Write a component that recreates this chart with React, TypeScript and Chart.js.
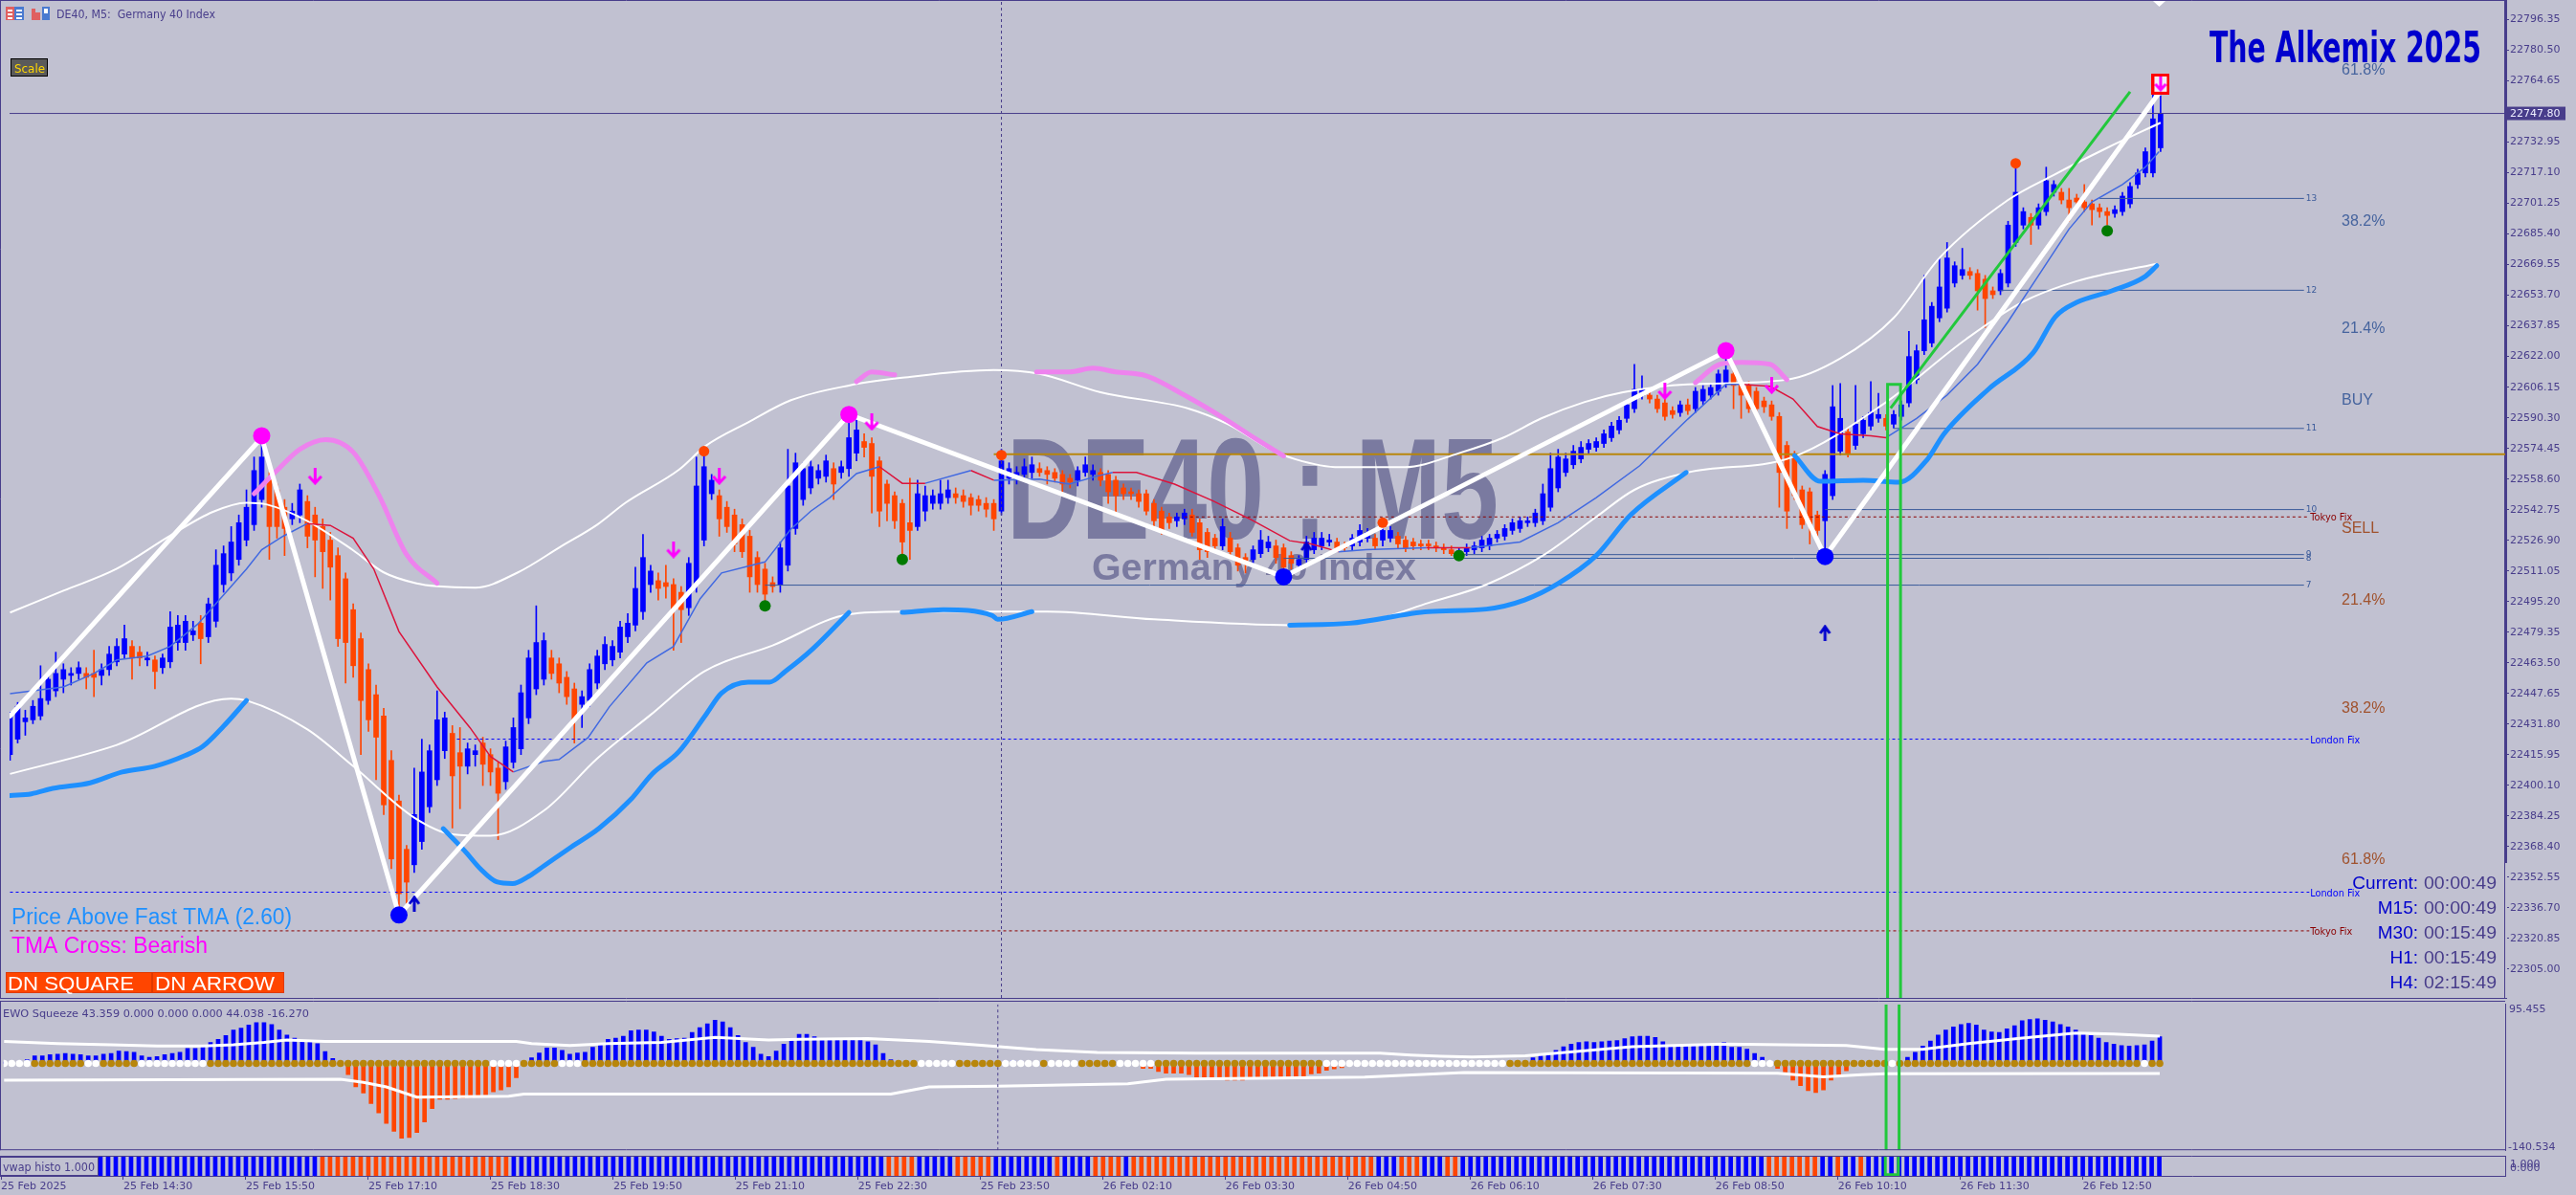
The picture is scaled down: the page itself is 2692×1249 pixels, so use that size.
import React, { useEffect, useRef } from "react";
import { Chart, registerables } from "chart.js";

Chart.register(...registerables);

// ---------------- colours / frame ----------------
const BG = "#c1c1d1";
const FRAME = "#483d8b";
const UP = "#0000ff";
const DOWN = "#ff4500";
const WM = "#7a7aa0";

// ---------------- candles: DE40 M5, bar 0 = 25 Feb 13:10, bar 282 = 26 Feb 13:40 ----------------
const opens = [
  22416,22424,22433,22434,22436,22444,22449,22455,22457,22458,
  22458,22458,22457,22460,22464,22468,22472,22469,22465,22465,
  22461,22464,22474,22474,22478,22484,22477,22485,22504,22510,
  22517,22527,22535,22548,22559,22553,22544,22538,22540,22547,
  22540,22534,22527,22519,22507,22491,22476,22460,22447,22436,
  22413,22392,22367,22359,22371,22389,22403,22418,22427,22417,
  22410,22416,22422,22416,22409,22402,22412,22419,22435,22450,
  22455,22466,22463,22456,22450,22442,22444,22453,22463,22465,
  22469,22477,22483,22490,22504,22506,22505,22504,22500,22492,
  22504,22527,22551,22550,22544,22540,22535,22529,22518,22512,
  22505,22504,22514,22533,22548,22554,22559,22560,22564,22562,
  22564,22572,22578,22577,22568,22556,22550,22546,22536,22534,
  22542,22546,22546,22549,22551,22550,22549,22548,22546,22546,
  22542,22559,22559,22561,22562,22564,22563,22562,22561,22559,
  22558,22562,22561,22562,22561,22558,22554,22552,22551,22551,
  22546,22542,22539,22537,22538,22540,22536,22531,22528,22524,
  22528,22523,22518,22517,22520,22523,22524,22523,22519,22514,
  22517,22522,22524,22526,22526,22524,22524,22526,22528,22528,
  22527,22528,22529,22527,22526,22525,22525,22524,22523,22522,
  22521,22521,22522,22523,22524,22528,22529,22532,22533,22536,
  22536,22537,22544,22554,22562,22566,22569,22574,22575,22577,
  22580,22584,22590,22595,22602,22602,22600,22598,22594,22593,
  22597,22595,22599,22602,22604,22608,22613,22608,22607,22604,
  22599,22597,22591,22576,22571,22553,22552,22540,22537,22550,
  22573,22583,22576,22582,22586,22590,22590,22587,22591,22598,
  22610,22625,22629,22642,22647,22660,22664,22666,22665,22662,
  22656,22656,22660,22681,22690,22694,22690,22697,22707,22707,
  22703,22704,22702,22701,22699,22697,22696,22697,22701,22711,
  22717,22717,22730
];
const highs = [
  22438,22443,22439,22444,22462,22458,22469,22463,22461,22464,
  22461,22470,22463,22472,22476,22483,22475,22472,22469,22467,
  22468,22490,22488,22488,22485,22488,22497,22522,22524,22534,
  22540,22553,22570,22578,22562,22556,22548,22546,22556,22550,
  22544,22538,22531,22523,22510,22494,22479,22463,22452,22440,
  22418,22395,22369,22409,22424,22421,22449,22438,22431,22430,
  22422,22421,22425,22419,22412,22423,22435,22452,22470,22493,
  22479,22470,22466,22459,22453,22449,22463,22470,22477,22475,
  22485,22489,22513,22530,22514,22510,22514,22507,22503,22518,
  22570,22572,22561,22553,22547,22543,22538,22532,22521,22515,
  22508,22526,22574,22572,22567,22568,22566,22571,22567,22568,
  22588,22590,22582,22580,22570,22558,22552,22548,22559,22558,
  22555,22553,22558,22558,22554,22553,22551,22550,22549,22548,
  22574,22567,22565,22569,22570,22567,22565,22564,22563,22561,
  22565,22570,22566,22564,22563,22560,22556,22554,22553,22553,
  22548,22544,22541,22541,22543,22543,22538,22533,22530,22538,
  22531,22525,22520,22524,22532,22529,22527,22525,22521,22519,
  22529,22531,22531,22530,22528,22526,22530,22535,22533,22530,
  22536,22534,22531,22529,22528,22527,22527,22526,22525,22524,
  22523,22525,22526,22529,22530,22532,22535,22538,22539,22539,
  22543,22556,22572,22574,22572,22576,22578,22579,22580,22584,
  22588,22591,22599,22618,22612,22605,22602,22600,22596,22599,
  22600,22606,22607,22608,22615,22621,22615,22610,22609,22606,
  22601,22599,22593,22578,22573,22555,22554,22542,22563,22607,
  22608,22585,22607,22591,22609,22603,22592,22594,22599,22635,
  22628,22664,22650,22673,22681,22671,22678,22668,22667,22664,
  22658,22667,22692,22721,22699,22696,22701,22720,22713,22709,
  22709,22706,22711,22703,22701,22699,22700,22707,22712,22719,
  22730,22758,22757
];
const lows = [
  22413,22422,22426,22432,22434,22442,22446,22448,22452,22455,
  22450,22446,22452,22457,22462,22466,22455,22462,22462,22450,
  22458,22461,22470,22470,22475,22463,22474,22482,22500,22506,
  22514,22524,22532,22544,22517,22528,22519,22535,22536,22523,
  22508,22502,22496,22472,22453,22456,22416,22428,22403,22385,
  22357,22335,22339,22355,22367,22386,22400,22414,22378,22388,
  22406,22410,22400,22400,22372,22398,22409,22416,22432,22447,
  22452,22455,22448,22442,22422,22430,22441,22450,22460,22462,
  22466,22474,22480,22486,22500,22496,22497,22470,22474,22488,
  22500,22524,22548,22529,22531,22521,22518,22500,22500,22494,
  22500,22500,22511,22530,22545,22551,22556,22557,22548,22559,
  22560,22568,22570,22541,22534,22537,22533,22517,22517,22532,
  22537,22543,22543,22546,22546,22544,22540,22542,22539,22532,
  22540,22556,22556,22558,22559,22560,22556,22557,22552,22554,
  22555,22560,22558,22555,22546,22541,22548,22548,22544,22540,
  22534,22530,22533,22534,22535,22529,22517,22518,22521,22522,
  22518,22511,22510,22514,22518,22521,22515,22511,22512,22512,
  22515,22520,22522,22524,22521,22521,22522,22524,22526,22522,
  22524,22526,22523,22521,22522,22522,22522,22521,22520,22519,
  22519,22519,22520,22521,22522,22526,22527,22530,22531,22534,
  22534,22535,22542,22552,22560,22564,22567,22572,22573,22575,
  22578,22582,22588,22593,22600,22598,22593,22589,22590,22591,
  22592,22593,22597,22600,22602,22606,22595,22590,22593,22592,
  22593,22589,22544,22533,22548,22533,22525,22525,22522,22548,
  22571,22570,22574,22580,22584,22588,22584,22585,22589,22596,
  22608,22623,22627,22640,22645,22658,22662,22662,22646,22637,
  22652,22654,22658,22679,22688,22680,22688,22695,22705,22701,
  22692,22700,22697,22690,22694,22690,22694,22695,22699,22709,
  22715,22715,22728
];
const closes = [
  22436,22441,22435,22441,22445,22455,22458,22460,22458,22461,
  22456,22456,22460,22468,22472,22476,22466,22466,22466,22459,
  22466,22482,22483,22485,22480,22476,22494,22514,22520,22526,
  22536,22544,22563,22570,22534,22534,22533,22542,22553,22529,
  22527,22521,22513,22476,22474,22462,22444,22434,22425,22390,
  22362,22344,22350,22385,22407,22418,22434,22435,22405,22410,
  22419,22418,22411,22407,22396,22420,22430,22448,22466,22474,
  22475,22458,22453,22446,22434,22446,22460,22467,22473,22472,
  22482,22484,22502,22518,22511,22502,22503,22491,22491,22515,
  22555,22565,22558,22538,22534,22525,22521,22508,22504,22499,
  22503,22523,22555,22567,22564,22565,22563,22568,22556,22565,
  22580,22584,22575,22560,22542,22546,22537,22526,22532,22551,
  22550,22550,22551,22553,22549,22547,22545,22545,22543,22538,
  22568,22564,22562,22565,22566,22562,22561,22559,22556,22557,
  22563,22566,22563,22558,22552,22550,22551,22551,22547,22542,
  22537,22532,22536,22539,22541,22531,22522,22521,22524,22534,
  22521,22514,22515,22522,22527,22526,22518,22513,22515,22517,
  22526,22528,22528,22527,22523,22523,22528,22532,22531,22524,
  22532,22532,22525,22523,22524,22524,22524,22523,22522,22520,
  22521,22523,22524,22527,22528,22530,22533,22536,22537,22537,
  22541,22551,22564,22570,22569,22573,22575,22577,22578,22582,
  22586,22589,22597,22605,22605,22600,22595,22591,22592,22597,
  22594,22604,22605,22606,22613,22615,22607,22602,22595,22595,
  22596,22591,22562,22542,22550,22535,22535,22532,22561,22596,
  22590,22572,22587,22589,22593,22592,22586,22592,22597,22622,
  22625,22641,22648,22658,22673,22669,22667,22664,22656,22652,
  22654,22665,22690,22707,22697,22690,22699,22713,22711,22703,
  22699,22702,22699,22698,22697,22695,22698,22705,22710,22717,
  22728,22745,22747.8
];

// ---------------- price-panel indicator lines (bar index, price) ----------------
const upperBand = [[0,22489.5],[7,22500.8],[14,22512.2],[21,22529.3],[26.6,22541.6],[31,22546.3],[33.7,22545.4],[39,22536.9],[45,22521.7],[49,22510.3],[53.3,22504.6],[56,22503.1],[61,22502.4],[66.6,22510.3],[72.2,22523.6],[77,22535],[80.7,22546.3],[87.7,22563.4],[91.2,22575.7],[96.8,22588],[102.4,22599.4],[110,22607],[117,22611],[129,22615],[135,22613],[143,22603.5],[154.6,22595],[159.7,22587],[165.4,22573.8],[168.6,22568.8],[174.3,22564.7],[182.9,22564.7],[190,22572],[195.8,22580],[200.8,22590],[206.5,22598.5],[211.5,22603.5],[220,22607.6],[233,22610],[240,22621],[247,22642],[253,22673],[262,22703],[268,22716],[275,22730],[282,22743]];
const lowerBand = [[0,22406],[14,22421],[29,22445],[31,22444],[39,22429],[45,22410],[53,22383.4],[58,22374.8],[63,22374],[70,22387],[77,22414],[84,22436.6],[91,22459],[100,22472.5],[110,22488.6],[117,22490],[136,22490],[150,22486],[168,22483],[179,22486],[186,22494.5],[193.6,22504],[201,22519],[208,22539],[213,22553],[220,22562],[233.8,22570],[245.5,22597],[256.5,22631],[263.8,22650],[271,22661],[281.5,22670]];
const thickBlueSegments = [
  [[0,22394.8],[2.8,22395.7],[5.6,22398.5],[10.5,22401.4],[14.7,22407],[19,22410],[23,22415.6],[25.3,22420.3],[28,22430.7],[31,22444]],
  [[56.8,22377.7],[59.6,22366.3],[61.7,22356.8],[63.8,22350.2],[65.9,22349.3],[68,22353],[70.1,22358.7],[73.6,22368.2],[77.2,22377.7],[81.4,22392.8],[84.2,22406],[87.7,22417.5],[91.2,22436.4],[93.3,22447.8],[96.8,22453.5],[99.6,22453.5],[101.7,22459.2],[105.2,22470.5],[110,22489.5]],
  [[117,22489.6],[122.4,22491],[128.8,22488],[129.5,22486],[134,22490]],
  [[167.8,22483],[175.7,22484],[186,22490],[193.6,22491.3],[198.6,22496],[203,22504.5],[208,22519],[212.5,22540],[219.8,22562]],
  [[234,22570.7],[237.4,22557.4],[243,22558],[247.7,22557],[251.4,22568.7],[253.6,22582],[259.4,22605],[265.3,22624],[268.2,22642.6],[271,22650],[275.6,22656],[280,22663.5],[281.5,22669]]
];
const violetSegments = [
  [[32,22551],[35,22563],[38,22574],[41.4,22579],[45,22572.5],[48.4,22550],[52,22519.5],[56,22504.7]],
  [[111,22609],[113,22614],[116,22612.5]],
  [[134.6,22614],[138.9,22614],[142,22616],[145,22614],[149,22612],[154,22602],[159.2,22590],[163.5,22579],[167,22570.5]],
  [[221,22608.5],[224.2,22618],[227,22619],[230.8,22618],[233,22610]]
];
const redMaSegments = [
  [[39,22535.6],[42,22534.6],[45,22528],[47.7,22512],[51,22479.7],[56,22451],[60.3,22430],[63,22415],[66,22407]],
  [[114,22565],[117,22556.4],[120,22556.4]],
  [[126,22563],[129,22558]],
  [[144.6,22562],[147.7,22562],[152.7,22556],[157.7,22547.4],[162.8,22537.5],[167.8,22526.7],[170.6,22525],[174.2,22521]],
  [[185.7,22523],[191.5,22523]],
  [[227,22607.6],[230.8,22606.6],[233.8,22600],[237,22585.8],[240,22582],[244,22581],[246,22580]]
];
const blueMaSegments = [
  [[0,22447.5],[7,22451],[11,22458],[14,22465],[18,22467],[21,22472],[24.6,22483.5],[27.4,22496],[31,22512],[33,22522],[35.8,22529],[39,22535.6]],
  [[66,22407],[70,22412.5],[72,22413.5],[75.8,22424.8],[78.6,22440.8],[83.5,22463.5],[87,22472],[90.5,22496.7],[93.3,22510],[99,22515.7],[102.4,22532.7],[105,22542],[107.5,22549],[111,22561.4],[114,22565]],
  [[120,22556.4],[126,22563]],
  [[129,22558],[135,22558.6],[138.9,22556],[142.4,22560],[144.6,22562]],
  [[174.2,22521],[177.8,22522],[185.7,22523]],
  [[191.5,22523],[198,22526],[203,22536],[208,22549],[213.7,22565.5],[220,22589.6],[225,22607.6],[227,22607.6]],
  [[246,22580],[250,22590],[254,22602],[258,22618],[262,22640],[266,22664],[270,22688],[273,22702],[277,22711],[280,22720],[281.8,22728]]
];
const zigzag = [[0,22436],[33,22580],[51,22333],[110,22592],[167,22508],[225,22624.6],[238,22518.5],[281.7,22758]];
const greenTrend = [[246.6,22595.3],[278,22759]];
const greenBoxBars = [246.2, 247.9];
const greenBoxTop = 22607.6;

const magentaDots = [[33,22581],[110,22592],[225,22625]];
const blueDots = [[51,22333],[167,22508],[238,22518.5]];
const orangeDots = [[91,22573],[130,22571],[180,22536],[263,22722]];
const greenDots = [[99,22493],[117,22517],[190,22519],[275,22687]];
const downArrows = [[40,22560],[87,22522],[93,22560],[113,22588],[217,22604],[231,22607]];
const upArrows = [[53,22339],[170,22522],[238,22479]];
const alertSquares = [[282,22763]];

// horizontal objects
const levelNames = ["13","12","11","10","9","8","7"];
const levelPrices = [22703.8,22656.3,22584.8,22542.8,22519.5,22517.6,22503.7];
const levelStarts = [274,261,247,238,190,167,99];
const levelEnd = 300.8;
const londonFixLevels = [22424, 22344.8];
const londonFixStarts = [58.6, 0];
const tokyoFixLevels = [22539, 22324.8];
const tokyoFixStarts = [154, 0];
const fixEnd = 301.5;
const goldLevel = 22571.4;
const goldStart = 129;
const currentPrice = 22747.8;
const markerBar = 130;

const fibLabels = ["61.8%","38.2%","21.4%","BUY","SELL","21.4%","38.2%","61.8%"];
const fibPrices = [22770,22692,22636.4,22599,22533,22495.8,22440,22361.8];
const fibColors = ["#46649e","#46649e","#46649e","#46649e","#a0522d","#a0522d","#a0522d","#a0522d"];

const timerNames = ["Current:","M15:","M30:","H1:","H4:"];
const timerValues = ["00:00:49","00:00:49","00:15:49","00:15:49","02:15:49"];

const priceTicks = [22305.00,22320.85,22336.70,22352.55,22368.40,22384.25,22400.10,22415.95,22431.80,22447.65,22463.50,22479.35,22495.20,22511.05,22526.90,22542.75,22558.60,22574.45,22590.30,22606.15,22622.00,22637.85,22653.70,22669.55,22685.40,22701.25,22717.10,22732.95,22764.65,22780.50,22796.35];
const timeTickBars = [0,16,32,48,64,80,96,112,128,144,160,176,192,208,224,240,256,272];
const timeTickLabels = ["25 Feb 2025","25 Feb 14:30","25 Feb 15:50","25 Feb 17:10","25 Feb 18:30","25 Feb 19:50","25 Feb 21:10","25 Feb 22:30","25 Feb 23:50","26 Feb 02:10","26 Feb 03:30","26 Feb 04:50","26 Feb 06:10","26 Feb 07:30","26 Feb 08:50","26 Feb 10:10","26 Feb 11:30","26 Feb 12:50"];

// ---------------- EWO squeeze panel ----------------
const ewo = [
  2,3,4,6,12,12,14,15,16,15,
  14,12,12,15,16,20,19,18,12,10,
  11,14,16,18,24,24,27,34,39,45,
  54,57,62,66,66,63,54,46,41,37,
  36,32,19,8,0,-18,-38,-48,-65,-80,
  -97,-110,-121,-120,-112,-95,-73,-58,-58,-57,
  -56,-55,-53,-51,-46,-43,-38,-23,0,9,
  17,25,25,21,15,17,18,26,30,39,
  41,44,53,54,54,51,44,39,40,41,
  50,58,64,70,67,58,45,34,26,15,
  11,20,31,40,47,47,43,40,38,39,
  39,39,41,35,30,16,6,2,0,0,
  0,0,0,0,0,0,0,0,0,0,
  0,4,5,4,2,0,0,0,0,0,
  0,0,0,0,0,0,0,0,0,-8,
  -8,-13,-16,-16,-16,-18,-22,-22,-22,-23,
  -27,-27,-27,-23,-23,-23,-23,-22,-22,-23,
  -21,-17,-16,-11,-9,-7,0,0,0,0,
  0,0,0,0,0,0,0,0,0,0,
  0,0,0,0,0,0,0,0,0,0,
  9,12,16,21,27,31,34,35,34,35,
  36,37,40,43,44,44,42,35,29,29,
  29,30,30,31,32,34,26,26,23,16,
  10,4,-8,-14,-27,-36,-44,-47,-43,-27,
  -21,-12,0,0,0,0,0,0,0,10,
  18,28,36,46,54,59,63,65,62,54,
  51,50,56,61,69,71,72,70,67,63,
  59,54,49,45,41,34,31,29,28,29,
  30,36,43
];
const ewoUpper = [[0,35.4],[7,32],[14,30],[20,28],[26,28],[30,30],[34,34],[37,38],[42,35.5],[67,35.5],[69,32],[74,29],[79,32],[86,34],[93,42],[100,38],[104,39],[113,40],[121,35.5],[127,30],[135,22.5],[143,17.8],[156,16.4],[180,16.4],[184,13.4],[188,11.4],[192,10.4],[199,12.4],[206,19.7],[213,27],[225,31.3],[241,29],[246,22.8],[251,22.8],[257,32],[264,41],[271,49],[276,47.6],[282,44]];
const ewoLower = [[0,-27.3],[44,-25.8],[47,-30.7],[50,-38],[54,-54.5],[66,-53],[68,-49.5],[116,-49.5],[121,-38],[130,-37],[147,-33],[152,-25.8],[178,-22.3],[191,-14.9],[232,-15.9],[238,-21.8],[243,-18.4],[246,-16.9],[282,-16.3]];
const ewoWhiteDotRanges = [[0,3],[11,12],[18,26],[64,67],[73,75],[120,124],[131,135],[137,140],[146,150],[173,196],[229,231],[247,247],[280,280]];

// ---------------- vwap histo panel ----------------
const vwapDownRanges = [[42,66],[116,119],[125,129],[138,138],[143,146],[148,179],[183,185],[189,190],[231,237],[240,240],[243,243]];

// ---------------- layout constants ----------------
const X_MIN = -0.0625;
const X_MAX = 327.1875;
const PRICE_MIN = 22290.1;
const PRICE_MAX = 22806.0;
const EWO_MIN = -140.534;
const EWO_MAX = 95.455;
const AXIS_W = 74;
const MAIN_OFF = 24; // main canvas starts 24px above the page so axis-label padding never squeezes the plot

const barIdx = closes.map((_, i) => i);
const inRanges = (i: number, r: number[][]) => r.some(([a, b]) => i >= a && i <= b);

function fitText(ctx: any, text: string, x: number, y: number, w: number, font: string, color: string) {
  ctx.save();
  ctx.font = font;
  ctx.fillStyle = color;
  ctx.textAlign = "left";
  ctx.textBaseline = "alphabetic";
  const m = ctx.measureText(text).width || 1;
  ctx.translate(x, y);
  ctx.scale(w / m, 1);
  ctx.fillText(text, 0, 0);
  ctx.restore();
}
function txt(ctx: any, text: string, x: number, y: number, font: string, color: string, align = "left", base = "middle") {
  ctx.save();
  ctx.font = font;
  ctx.fillStyle = color;
  ctx.textAlign = align;
  ctx.textBaseline = base;
  ctx.fillText(text, x, y);
  ctx.restore();
}

function lineDs(pts: number[][], color: string, width: number, order: number, extra: any = {}) {
  return {
    type: "line",
    data: pts.map(([x, y]) => ({ x, y })),
    borderColor: color,
    borderWidth: width,
    pointRadius: 0,
    pointHoverRadius: 0,
    fill: false,
    tension: 0,
    order,
    ...extra,
  };
}
function dotsDs(pts: number[][], color: any, radius: number, order: number, style: any = "circle") {
  return {
    type: "line",
    showLine: false,
    data: pts.map(([x, y]) => ({ x, y })),
    pointRadius: radius,
    pointHoverRadius: radius,
    pointStyle: style,
    pointBackgroundColor: color,
    pointBorderColor: color,
    pointBorderWidth: 0,
    order,
  };
}

function makeArrow(w: number, h: number, color: string, down: boolean, lw: number) {
  const c = document.createElement("canvas");
  c.width = w;
  c.height = h;
  const g = c.getContext("2d") as any;
  g.strokeStyle = color;
  g.lineWidth = lw;
  g.lineJoin = "miter";
  g.beginPath();
  const cx = w / 2;
  if (down) {
    g.moveTo(cx, 0);
    g.lineTo(cx, h - 2);
    g.moveTo(2, h - 9);
    g.lineTo(cx, h - 2);
    g.lineTo(w - 2, h - 9);
  } else {
    g.moveTo(cx, h);
    g.lineTo(cx, 2);
    g.moveTo(2, 9);
    g.lineTo(cx, 2);
    g.lineTo(w - 2, 9);
  }
  g.stroke();
  return c;
}
function makeAlert() {
  const c = document.createElement("canvas");
  c.width = 19;
  c.height = 22;
  const g = c.getContext("2d") as any;
  g.fillStyle = "#f4eef6";
  g.fillRect(0, 0, 19, 22);
  g.strokeStyle = "#ff00ff";
  g.lineWidth = 3;
  g.beginPath();
  g.moveTo(9.5, 3);
  g.lineTo(9.5, 17);
  g.moveTo(4, 11);
  g.lineTo(9.5, 17);
  g.lineTo(15, 11);
  g.stroke();
  g.strokeStyle = "#ff0000";
  g.lineWidth = 3;
  g.strokeRect(1.5, 1.5, 16, 19);
  return c;
}

const xHidden = { type: "linear", min: X_MIN, max: X_MAX, offset: false, display: false, grid: { offset: false } };

export default function App() {
  const mainRef = useRef<HTMLCanvasElement>(null);
  const ewoRef = useRef<HTMLCanvasElement>(null);
  const vwapRef = useRef<HTMLCanvasElement>(null);

  useEffect(() => {
    const charts: any[] = [];
    const candleColors = barIdx.map((i) => (closes[i] >= opens[i] ? UP : DOWN));
    const downArrowImg = makeArrow(17, 18, "#ff00ff", true, 3);
    const upArrowImg = makeArrow(14, 17, "#0000cd", false, 3);
    const alertImg = makeAlert();

    // ---------------- main price panel ----------------
    const mainDatasets: any[] = [
      {
        type: "bar",
        data: barIdx.map((i) => ({ x: i, y: [lows[i], highs[i]] })),
        backgroundColor: candleColors,
        barThickness: 1,
        grouped: false,
        borderWidth: 0,
        order: 101,
      },
      {
        type: "bar",
        data: barIdx.map((i) => ({ x: i, y: [opens[i], closes[i]] })),
        backgroundColor: candleColors,
        barThickness: 5,
        minBarLength: 1,
        grouped: false,
        borderWidth: 0,
        order: 100,
      },
    ];
    londonFixLevels.forEach((lv, k) =>
      mainDatasets.push(lineDs([[londonFixStarts[k], lv], [fixEnd, lv]], "#0000ff", 1, 70, { borderDash: [3, 3] }))
    );
    tokyoFixLevels.forEach((lv, k) =>
      mainDatasets.push(lineDs([[tokyoFixStarts[k], lv], [fixEnd, lv]], "#8b0000", 1, 70, { borderDash: [3, 3] }))
    );
    levelPrices.forEach((lv, k) => mainDatasets.push(lineDs([[levelStarts[k], lv], [levelEnd, lv]], "#3a5a9a", 1, 70)));
    mainDatasets.push(lineDs([[goldStart, goldLevel], [X_MAX, goldLevel]], "#b8860b", 2, 69));
    mainDatasets.push(lineDs([[X_MIN, currentPrice], [X_MAX, currentPrice]], FRAME, 1, 69));
    mainDatasets.push(lineDs([[markerBar, PRICE_MIN], [markerBar, PRICE_MAX]], FRAME, 1, 69, { borderDash: [3, 3] }));
    mainDatasets.push(lineDs(upperBand, "#ffffff", 2, 50, { cubicInterpolationMode: "monotone" }));
    mainDatasets.push(lineDs(lowerBand, "#ffffff", 2, 50, { cubicInterpolationMode: "monotone" }));
    thickBlueSegments.forEach((s) => mainDatasets.push(lineDs(s, "#1e90ff", 5, 45, { cubicInterpolationMode: "monotone", borderCapStyle: "round" })));
    violetSegments.forEach((s) => mainDatasets.push(lineDs(s, "#ee82ee", 5, 45, { cubicInterpolationMode: "monotone", borderCapStyle: "round" })));
    redMaSegments.forEach((s) => mainDatasets.push(lineDs(s, "#dc143c", 1.5, 40)));
    blueMaSegments.forEach((s) => mainDatasets.push(lineDs(s, "#4169e1", 1.5, 40)));
    mainDatasets.push(lineDs(zigzag, "#ffffff", 5, 35, { borderJoinStyle: "round", borderCapStyle: "round" }));
    mainDatasets.push(lineDs(greenTrend, "#22c83c", 3, 30));
    mainDatasets.push(lineDs([[greenBoxBars[0], PRICE_MIN], [greenBoxBars[0], greenBoxTop], [greenBoxBars[1], greenBoxTop], [greenBoxBars[1], PRICE_MIN]], "#22c83c", 3, 30));
    mainDatasets.push(dotsDs(magentaDots, "#ff00ff", 9, 20));
    mainDatasets.push(dotsDs(blueDots, "#0000ff", 9, 20));
    mainDatasets.push(dotsDs(orangeDots, "#ff4500", 5.5, 20));
    mainDatasets.push(dotsDs(greenDots, "#007a00", 6, 20));
    mainDatasets.push(dotsDs(downArrows, "#ff00ff", 10, 10, downArrowImg));
    mainDatasets.push(dotsDs(upArrows, "#0000cd", 10, 10, upArrowImg));
    mainDatasets.push(dotsDs(alertSquares, "#ff0000", 10, 10, alertImg));

    const mainDeco = {
      id: "mainDeco",
      beforeDatasetsDraw(chart: any) {
        const ctx = chart.ctx;
        ctx.save();
        ctx.translate(0, MAIN_OFF);
        fitText(ctx, "DE40 : M5", 1052, 563, 514, 'bold 151px "Liberation Sans"', WM);
        fitText(ctx, "Germany 40 Index", 1141, 606, 339, 'bold 38px "Liberation Sans"', WM);
        ctx.restore();
      },
      afterDraw(chart: any) {
        const ctx = chart.ctx;
        const a = chart.chartArea;
        const xs = chart.scales.x;
        const ys = chart.scales.y;
        const py = (v: number) => ys.getPixelForValue(v) - MAIN_OFF;
        const bottom = a.bottom - MAIN_OFF;
        ctx.save();
        ctx.translate(0, MAIN_OFF);
        // frame
        ctx.strokeStyle = FRAME;
        ctx.lineWidth = 1;
        ctx.beginPath();
        ctx.moveTo(0, 0.5);
        ctx.lineTo(a.right, 0.5);
        ctx.moveTo(0.5, 0);
        ctx.lineTo(0.5, bottom);
        ctx.moveTo(0, bottom + 0.5);
        ctx.lineTo(a.right, bottom + 0.5);
        ctx.stroke();
        // the thick axis line stops at the timer box; below it the border is thin
        ctx.fillStyle = BG;
        ctx.fillRect(a.right - 2, 902, 4, bottom - 902);
        ctx.beginPath();
        ctx.moveTo(a.right - 0.5, 902);
        ctx.lineTo(a.right - 0.5, bottom + 1);
        ctx.stroke();

        // header icons + symbol text
        ctx.fillStyle = "#e06060";
        ctx.fillRect(6, 7, 9, 14);
        ctx.fillStyle = "#4a7ad0";
        ctx.fillRect(15, 7, 10, 14);
        ctx.fillStyle = "#ffffff";
        for (let k = 0; k < 3; k++) {
          ctx.fillRect(8, 10 + k * 4, 5, 2);
          ctx.fillRect(17, 10 + k * 4, 6, 2);
        }
        ctx.fillStyle = "#e06060";
        ctx.fillRect(33, 9, 4, 12);
        ctx.fillRect(37, 13, 5, 8);
        ctx.fillStyle = "#4a7ad0";
        ctx.fillRect(44, 7, 8, 14);
        ctx.fillStyle = "#ffffff";
        ctx.fillRect(46, 9, 4, 5);
        fitText(ctx, "DE40, M5:  Germany 40 Index", 59, 19, 166, '12px "DejaVu Sans"', FRAME);

        // Scale button
        ctx.fillStyle = "#5a5a5a";
        ctx.fillRect(11, 61, 39, 19);
        ctx.strokeStyle = "#000000";
        ctx.strokeRect(11.5, 61.5, 38, 18);
        fitText(ctx, "Scale", 15, 76, 32, '12px "DejaVu Sans"', "#ffd700");

        // shift marker
        ctx.fillStyle = "#ffffff";
        ctx.beginPath();
        ctx.moveTo(2250, 1);
        ctx.lineTo(2263, 1);
        ctx.lineTo(2256.5, 7);
        ctx.closePath();
        ctx.fill();

        // title
        fitText(ctx, "The Alkemix 2025", 2309, 65, 284, 'bold 44px "Liberation Sans Narrow", "DejaVu Sans Condensed"', "#0000cd");

        // fib / buy / sell labels
        fibLabels.forEach((t, k) => txt(ctx, t, 2447, py(fibPrices[k]), '16px "Liberation Sans"', fibColors[k]));

        // numbered level labels
        levelNames.forEach((t, k) => txt(ctx, t, xs.getPixelForValue(levelEnd) + 2, py(levelPrices[k]), '9px "DejaVu Sans"', "#3a5a9a"));

        // fix labels
        londonFixLevels.forEach((lv) =>
          fitText(ctx, "London Fix", xs.getPixelForValue(fixEnd) + 1, py(lv) + 4, 52, '10px "DejaVu Sans"', "#0000ff")
        );
        tokyoFixLevels.forEach((lv) =>
          fitText(ctx, "Tokyo Fix", xs.getPixelForValue(fixEnd) + 1, py(lv) + 4, 44, '10px "DejaVu Sans"', "#8b0000")
        );

        // current price label on axis
        const cy = py(currentPrice);
        ctx.fillStyle = FRAME;
        ctx.fillRect(a.right + 2, cy - 7, 61, 14);
        txt(ctx, currentPrice.toFixed(2), a.right + 5, cy + 0.5, '11px "DejaVu Sans"', "#eeeeff");

        // bottom-left status texts
        fitText(ctx, "Price Above Fast TMA (2.60)", 12, 966, 293, '23px "Liberation Sans"', "#1e90ff");
        fitText(ctx, "TMA Cross: Bearish", 12, 996, 205, '23px "Liberation Sans"', "#ff00ff");
        ctx.fillStyle = "#ff4500";
        ctx.fillRect(6, 1016, 291, 22);
        ctx.strokeStyle = "#e03a00";
        ctx.lineWidth = 1;
        ctx.strokeRect(6.5, 1016.5, 152, 21);
        ctx.strokeRect(159.5, 1016.5, 137, 21);
        fitText(ctx, "DN SQUARE", 8, 1035, 132, '21px "Liberation Sans"', "#ffffff");
        fitText(ctx, "DN ARROW", 162, 1035, 125, '21px "Liberation Sans"', "#ffffff");

        // timers
        const baseY = [929, 955, 981, 1007, 1033];
        timerNames.forEach((t, k) => {
          txt(ctx, t, 2527, baseY[k], '19px "Liberation Sans"', "#0000cd", "right", "alphabetic");
          fitText(ctx, timerValues[k], 2533, baseY[k], 76, '19px "Liberation Sans"', FRAME);
        });
        ctx.restore();
      },
    };

    const mainChart = new Chart(mainRef.current as any, {
      type: "bar",
      data: { datasets: mainDatasets },
      options: {
        responsive: false,
        maintainAspectRatio: false,
        animation: false,
        devicePixelRatio: 1,
        events: [],
        layout: { padding: { top: MAIN_OFF + 1, bottom: 24, left: 0, right: 0 } },
        plugins: { legend: { display: false }, tooltip: { enabled: false } },
        scales: {
          x: xHidden,
          y: {
            type: "linear",
            position: "right",
            min: PRICE_MIN,
            max: PRICE_MAX,
            afterBuildTicks: (s: any) => {
              s.ticks = priceTicks.map((v) => ({ value: v }));
            },
            afterFit: (s: any) => {
              s.width = AXIS_W;
            },
            ticks: {
              autoSkip: false,
              color: FRAME,
              padding: 1,
              font: { family: "DejaVu Sans", size: 11 },
              callback: (v: any) => Number(v).toFixed(2),
            },
            grid: { display: true, drawOnChartArea: false, drawTicks: true, tickLength: 4, color: FRAME },
            border: { display: true, color: FRAME, width: 3 },
          },
        },
      } as any,
      plugins: [mainDeco],
    } as any);
    charts.push(mainChart);

    // ---------------- EWO panel ----------------
    const dotColors = barIdx.map((i) => (inRanges(i, ewoWhiteDotRanges) ? "#ffffff" : "#b8860b"));
    const ewoDatasets: any[] = [
      {
        type: "bar",
        data: barIdx.map((i) => ({ x: i, y: ewo[i] })),
        backgroundColor: barIdx.map((i) => (ewo[i] >= 0 ? UP : DOWN)),
        barThickness: 4,
        borderWidth: 0,
        order: 50,
      },
      lineDs(ewoUpper, "#ffffff", 3, 30),
      lineDs(ewoLower, "#ffffff", 3, 30),
      dotsDs(barIdx.map((i) => [i, 0]), dotColors, 3.8, 20),
      lineDs([[markerBar, EWO_MIN], [markerBar, EWO_MAX]], FRAME, 1, 25, { borderDash: [3, 3] }),
      lineDs([[greenBoxBars[0], EWO_MIN], [greenBoxBars[0], EWO_MAX]], "#22c83c", 3, 10),
      lineDs([[greenBoxBars[1], EWO_MIN], [greenBoxBars[1], EWO_MAX]], "#22c83c", 3, 10),
    ];
    const ewoDeco = {
      id: "ewoDeco",
      afterDraw(chart: any) {
        const ctx = chart.ctx;
        const a = chart.chartArea;
        ctx.save();
        ctx.strokeStyle = FRAME;
        ctx.lineWidth = 1;
        ctx.beginPath();
        ctx.moveTo(0, 0.5);
        ctx.lineTo(a.right, 0.5);
        ctx.moveTo(0, a.bottom - 0.5);
        ctx.lineTo(a.right, a.bottom - 0.5);
        ctx.moveTo(0.5, 0);
        ctx.lineTo(0.5, a.bottom);
        ctx.stroke();
        fitText(ctx, "EWO Squeeze 43.359 0.000 0.000 0.000 44.038 -16.270", 3, 17, 320, '11px "DejaVu Sans"', FRAME);
        txt(ctx, EWO_MAX.toFixed(3), a.right + 4, 9, '11px "DejaVu Sans"', FRAME);
        txt(ctx, EWO_MIN.toFixed(3), a.right + 3, 153, '11px "DejaVu Sans"', FRAME);
        ctx.restore();
      },
    };
    const ewoChart = new Chart(ewoRef.current as any, {
      type: "bar",
      data: { datasets: ewoDatasets },
      options: {
        responsive: false,
        maintainAspectRatio: false,
        animation: false,
        devicePixelRatio: 1,
        events: [],
        layout: { padding: 0 },
        plugins: { legend: { display: false }, tooltip: { enabled: false } },
        scales: {
          x: xHidden,
          y: {
            type: "linear",
            position: "right",
            min: EWO_MIN,
            max: EWO_MAX,
            afterFit: (s: any) => {
              s.width = AXIS_W;
            },
            ticks: { display: false },
            grid: { display: false },
            border: { display: true, color: FRAME, width: 1 },
          },
        },
      } as any,
      plugins: [ewoDeco],
    } as any);
    charts.push(ewoChart);

    // ---------------- vwap histo panel + time axis ----------------
    const vwapDatasets: any[] = [
      {
        type: "bar",
        data: barIdx.map((i) => ({ x: i, y: 1 })),
        backgroundColor: barIdx.map((i) => (inRanges(i, vwapDownRanges) ? DOWN : UP)),
        barThickness: 4,
        borderWidth: 0,
        order: 50,
      },
      lineDs([[greenBoxBars[0], 0], [greenBoxBars[0], 1]], "#22c83c", 3, 10),
      lineDs([[greenBoxBars[1], 0], [greenBoxBars[1], 1]], "#22c83c", 3, 10),
      lineDs([[greenBoxBars[0], 0.06], [greenBoxBars[1], 0.06]], "#22c83c", 3, 10),
    ];
    const vwapDeco = {
      id: "vwapDeco",
      afterDraw(chart: any) {
        const ctx = chart.ctx;
        const a = chart.chartArea;
        ctx.save();
        ctx.strokeStyle = FRAME;
        ctx.lineWidth = 1;
        ctx.beginPath();
        ctx.moveTo(0, 0.5);
        ctx.lineTo(a.right, 0.5);
        ctx.moveTo(0.5, 0);
        ctx.lineTo(0.5, a.bottom);
        ctx.stroke();
        ctx.fillStyle = BG;
        ctx.fillRect(1, 1, 101, 20);
        ctx.strokeRect(0.5, 1.5, 102, 19);
        fitText(ctx, "vwap histo 1.000", 3, 16, 96, '12px "DejaVu Sans"', FRAME);
        txt(ctx, "1.000", a.right + 5, 9, '11px "DejaVu Sans"', FRAME);
        txt(ctx, "0.000", a.right + 5, 13, '11px "DejaVu Sans"', FRAME);
        ctx.restore();
      },
    };
    const vwapChart = new Chart(vwapRef.current as any, {
      type: "bar",
      data: { datasets: vwapDatasets },
      options: {
        responsive: false,
        maintainAspectRatio: false,
        animation: false,
        devicePixelRatio: 1,
        events: [],
        layout: { padding: 0 },
        plugins: { legend: { display: false }, tooltip: { enabled: false } },
        scales: {
          x: {
            type: "linear",
            min: X_MIN,
            max: X_MAX,
            offset: false,
            position: "bottom",
            afterBuildTicks: (s: any) => {
              s.ticks = timeTickBars.map((v) => ({ value: v }));
            },
            afterFit: (s: any) => {
              s.height = 20;
            },
            ticks: {
              autoSkip: false,
              maxRotation: 0,
              minRotation: 0,
              align: "start",
              padding: 1,
              color: FRAME,
              font: { family: "DejaVu Sans", size: 11 },
              callback: (_v: any, idx: number) => timeTickLabels[idx],
            },
            grid: { display: true, offset: false, drawOnChartArea: false, drawTicks: true, tickLength: 4, color: FRAME },
            border: { display: true, color: FRAME, width: 1 },
          },
          y: {
            type: "linear",
            position: "right",
            min: 0,
            max: 1,
            afterFit: (s: any) => {
              s.width = AXIS_W;
            },
            ticks: { display: false },
            grid: { display: false },
            border: { display: true, color: FRAME, width: 1 },
          },
        },
      } as any,
      plugins: [vwapDeco],
    } as any);
    charts.push(vwapChart);

    return () => {
      charts.forEach((c) => c.destroy());
    };
  }, []);

  return (
    <div
      style={{
        position: "absolute",
        left: 0,
        top: 0,
        width: 2692,
        height: 1249,
        background: BG,
        overflow: "hidden",
      }}
    >
      <canvas ref={mainRef} width={2692} height={1091} style={{ position: "absolute", left: 0, top: -MAIN_OFF }} />
      <canvas ref={ewoRef} width={2692} height={160} style={{ position: "absolute", left: 0, top: 1046 }} />
      <canvas ref={vwapRef} width={2692} height={41} style={{ position: "absolute", left: 0, top: 1208 }} />
    </div>
  );
}
